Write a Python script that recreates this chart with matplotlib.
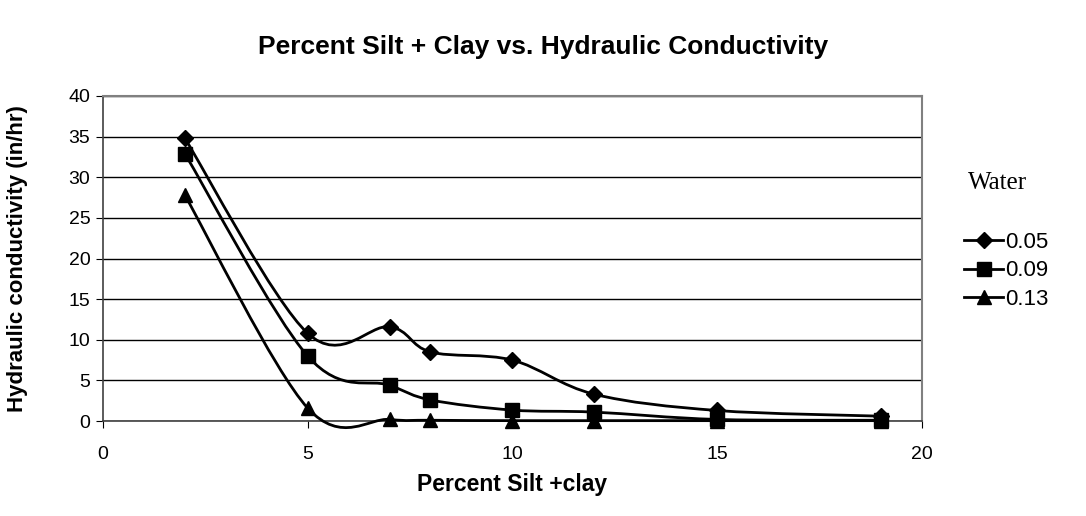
import matplotlib.pyplot as plt
from matplotlib.path import Path
from matplotlib.patches import PathPatch

# percent silt + clay and hydraulic conductivity (in/hr) for each water content
silt_clay = [2, 5, 7, 8, 10, 12, 15, 19]
k_005 = [34.8, 10.8, 11.6, 8.5, 7.5, 3.3, 1.3, 0.6]
k_009 = [32.9, 8.0, 4.4, 2.6, 1.35, 1.1, 0.2, 0.1]
k_013 = [27.8, 1.6, 0.2, 0.1, 0.05, 0.05, 0.05, 0.05]
labels = ['0.05', '0.09', '0.13']
markers = ['D', 's', '^']
sizes = [8, 9.5, 10]


def smoothPath(xs, ys):
    # excel style smoothed line: cubic bezier through each point
    pts = list(zip(xs, ys))
    verts = [pts[0]]
    codes = [Path.MOVETO]
    n = len(pts)
    for i in range(n - 1):
        p0 = pts[i - 1] if i > 0 else pts[i]
        p1 = pts[i]
        p2 = pts[i + 1]
        p3 = pts[i + 2] if i + 2 < n else pts[i + 1]
        c1 = (p1[0] + (p2[0] - p0[0]) / 6, p1[1] + (p2[1] - p0[1]) / 6)
        c2 = (p2[0] - (p3[0] - p1[0]) / 6, p2[1] - (p3[1] - p1[1]) / 6)
        verts += [c1, c2, p2]
        codes += [Path.CURVE4] * 3
    return Path(verts, codes)


plt.rcParams['font.family'] = ['Liberation Sans', 'DejaVu Sans']

fig = plt.figure(figsize=(10.86, 5.16), dpi=100)
ax = fig.add_axes([0.0948, 0.184, 0.754, 0.630])

for ys, lab, m, ms in zip([k_005, k_009, k_013], labels, markers, sizes):
    ax.add_patch(PathPatch(smoothPath(silt_clay, ys), fill=False, lw=2, color='black',
                           zorder=3, clip_on=False))
    ax.plot(silt_clay, ys, linestyle='none', marker=m, ms=ms, color='black', zorder=4, clip_on=False)
    ax.plot([], [], '-', marker=m, ms=ms, color='black', lw=2, label=lab)

ax.set_xlim(0, 20)
ax.set_ylim(0, 40)
ax.set_xticks(range(0, 21, 5))
ax.set_yticks(range(0, 41, 5))
ax.grid(axis='y', color='black', lw=1)
ax.set_axisbelow(True)
ax.tick_params(labelsize=14, length=5, color='black', direction='out')
ax.tick_params(axis='x', pad=13)
ax.tick_params(axis='y', pad=4)
for s in ['top', 'right']:
    ax.spines[s].set_color('#808080')
    ax.spines[s].set_linewidth(1.5)
for s in ['left', 'bottom']:
    ax.spines[s].set_color('#404040')
    ax.spines[s].set_linewidth(1.2)

ax.set_xlabel('Percent Silt +clay', fontsize=16.5, fontweight='bold')
ax.set_ylabel('Hydraulic conductivity (in/hr)', fontsize=16, fontweight='bold')
ax.xaxis.set_label_coords(0.5, -0.16)
ax.yaxis.set_label_coords(-0.092, 0.5)
fig.text(0.5, 0.909, 'Percent Silt + Clay vs. Hydraulic Conductivity', ha='center', va='center',
         fontsize=19, fontweight='bold')

fig.text(0.891, 0.645, 'Water', fontsize=18, family='Liberation Serif', va='center')
leg = ax.legend(loc='center left', bbox_to_anchor=(0.888, 0.475), bbox_transform=fig.transFigure,
                frameon=False, fontsize=16, handlelength=1.75, handletextpad=0.1,
                labelspacing=0.35, borderaxespad=0, borderpad=0)

fig.savefig('out.png', dpi=100)
